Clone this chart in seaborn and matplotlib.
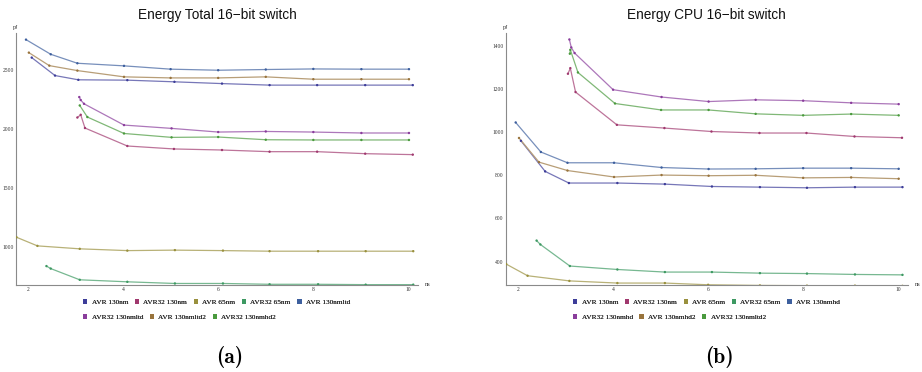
import os
import matplotlib
matplotlib.use("Agg")
import matplotlib.pyplot as plt
import numpy as np
import pandas as pd
import seaborn as sns
from matplotlib.patches import Patch
from matplotlib.ticker import MultipleLocator
from matplotlib.colors import to_rgb
from matplotlib.font_manager import FontProperties

# ---------------- data ----------------
names_a = ["AVR 130nm", "AVR32 130nm", "AVR 65nm", "AVR32 65nm", "AVR 130nmltd",
           "AVR32 130nmltd", "AVR 130nmltd2", "AVR32 130nmhd2"]
names_b = ["AVR 130nm", "AVR32 130nm", "AVR 65nm", "AVR32 65nm", "AVR 130nmhd",
           "AVR32 130nmhd", "AVR 130nmhd2", "AVR32 130nmltd2"]
series_colors = ["#3d3d99", "#a0386e", "#99903d", "#3d9962", "#3d5f9e",
                 "#8a3d9c", "#99743d", "#4a9a3d"]

# Panel (a): Energy Total
tot_avr130_x = [2.08, 2.57, 3.06, 4.09, 5.08, 6.08, 7.08, 8.08, 9.09, 10.09]
tot_avr130_y = [2604, 2452, 2416, 2413, 2399, 2384, 2371, 2371, 2371, 2371]
tot_avr32_130_x = [3.04, 3.11, 3.20, 4.09, 5.07, 6.08, 7.08, 8.08, 9.09, 10.09]
tot_avr32_130_y = [2097, 2120, 2008, 1856, 1831, 1822, 1808, 1808, 1791, 1783]
tot_avr65_x = [1.76, 2.20, 3.09, 4.09, 5.09, 6.10, 7.08, 8.10, 9.10, 10.10]
tot_avr65_y = [1084, 1011, 986, 971, 975, 971, 966, 966, 966, 966]
tot_avr32_65_x = [2.39, 2.48, 3.09, 4.09, 5.09, 6.10, 7.08, 8.10, 9.10, 10.10]
tot_avr32_65_y = [840, 819, 724, 707, 693, 693, 686, 686, 683, 683]
tot_avr130l_x = [1.96, 2.48, 3.04, 4.02, 5.00, 6.00, 7.00, 8.00, 9.01, 10.01]
tot_avr130l_y = [2756, 2632, 2556, 2534, 2506, 2497, 2503, 2508, 2506, 2506]
tot_avr32_130l_x = [3.08, 3.11, 3.18, 4.02, 5.02, 6.00, 7.00, 8.00, 9.01, 10.01]
tot_avr32_130l_y = [2270, 2245, 2213, 2033, 2005, 1974, 1979, 1974, 1966, 1966]
tot_avr130l2_x = [2.02, 2.45, 3.04, 4.02, 5.00, 6.00, 7.00, 8.00, 9.01, 10.01]
tot_avr130l2_y = [2646, 2536, 2494, 2441, 2432, 2432, 2441, 2421, 2421, 2421]
tot_avr32_130h2_x = [3.09, 3.25, 4.02, 5.02, 6.00, 7.00, 8.00, 9.01, 10.01]
tot_avr32_130h2_y = [2199, 2101, 1962, 1929, 1932, 1909, 1907, 1907, 1907]

# Panel (b): Energy CPU
cpu_avr130_x = [2.06, 2.57, 3.07, 4.09, 5.09, 6.08, 7.09, 8.08, 9.09, 10.09]
cpu_avr130_y = [960, 818, 764, 764, 759, 748, 745, 742, 745, 745]
cpu_avr32_130_x = [3.05, 3.10, 3.21, 4.08, 5.08, 6.07, 7.08, 8.07, 9.08, 10.08]
cpu_avr32_130_y = [1271, 1297, 1186, 1034, 1019, 1003, 996, 996, 980, 974]
cpu_avr65_x = [1.75, 2.20, 3.08, 4.09, 5.09, 6.00, 7.09, 8.08, 9.09, 10.09]
cpu_avr65_y = [388, 334, 310, 300, 300, 292, 289, 288, 288, 287]
cpu_avr32_65_x = [2.39, 2.47, 3.09, 4.09, 5.09, 6.08, 7.09, 8.08, 9.09, 10.09]
cpu_avr32_65_y = [497, 479, 379, 363, 351, 351, 346, 344, 340, 338]
cpu_avr130h_x = [1.95, 2.48, 3.04, 4.02, 5.02, 6.01, 7.00, 8.00, 9.01, 10.01]
cpu_avr130h_y = [1045, 908, 858, 858, 836, 829, 830, 833, 833, 830]
cpu_avr32_130h_x = [3.08, 3.12, 3.19, 4.00, 5.02, 6.01, 7.00, 8.00, 9.01, 10.01]
cpu_avr32_130h_y = [1430, 1393, 1367, 1197, 1163, 1142, 1150, 1146, 1136, 1130]
cpu_avr130h2_x = [2.02, 2.44, 3.04, 4.02, 5.02, 6.01, 7.00, 8.00, 9.01, 10.01]
cpu_avr130h2_y = [973, 861, 822, 792, 801, 798, 800, 788, 790, 784]
cpu_avr32_130l2_x = [3.09, 3.10, 3.26, 4.04, 5.01, 6.01, 7.00, 8.00, 9.01, 10.01]
cpu_avr32_130l2_y = [1364, 1382, 1277, 1133, 1103, 1103, 1085, 1078, 1084, 1078]

xs_a = [tot_avr130_x, tot_avr32_130_x, tot_avr65_x, tot_avr32_65_x, tot_avr130l_x,
        tot_avr32_130l_x, tot_avr130l2_x, tot_avr32_130h2_x]
ys_a = [tot_avr130_y, tot_avr32_130_y, tot_avr65_y, tot_avr32_65_y, tot_avr130l_y,
        tot_avr32_130l_y, tot_avr130l2_y, tot_avr32_130h2_y]
xs_b = [cpu_avr130_x, cpu_avr32_130_x, cpu_avr65_x, cpu_avr32_65_x, cpu_avr130h_x,
        cpu_avr32_130h_x, cpu_avr130h2_x, cpu_avr32_130l2_x]
ys_b = [cpu_avr130_y, cpu_avr32_130_y, cpu_avr65_y, cpu_avr32_65_y, cpu_avr130h_y,
        cpu_avr32_130h_y, cpu_avr130h2_y, cpu_avr32_130l2_y]

titles = ["Energy Total 16\u2212bit switch", "Energy CPU 16\u2212bit switch"]
captions = ["(a)", "(b)"]

# ---------------- style ----------------
sns.set_style("white")
plt.rcParams['font.family'] = ['Liberation Serif', 'DejaVu Serif']

cmb_path = os.path.join(matplotlib.get_data_path(), "fonts", "ttf", "cmb10.ttf")
if os.path.exists(cmb_path):
    cap_font = FontProperties(fname=cmb_path, size=15.5)
else:
    cap_font = FontProperties(family="Liberation Serif", weight="bold", size=15.5)


def tint(c, f=0.3):
    r = np.array(to_rgb(c))
    return tuple(r + (1 - r) * f)


def build(names, xs, ys):
    rows = []
    for n, x, y in zip(names, xs, ys):
        for xi, yi in zip(x, y):
            rows.append((n, xi, yi))
    return pd.DataFrame(rows, columns=["series", "ns", "pJ"])


fig = plt.figure(figsize=(9.22, 3.72), dpi=100)
W, H = 922.0, 372.0

panels = [
    dict(names=names_a, xs=xs_a, ys=ys_a, left=16, xlim=(1.75, 10.2), ylim=(680, 2812),
         ymaj=500, ymin=100, leg_x=83, cap_x=230, title_x=217),
    dict(names=names_b, xs=xs_b, ys=ys_b, left=505.7, xlim=(1.74, 10.2), ylim=(291, 1460),
         ymaj=200, ymin=50, leg_x=573, cap_x=719, title_x=706),
]

for i, p in enumerate(panels):
    ax = fig.add_axes([p["left"] / W, 1 - 285 / H, 402 / W, 252 / H])
    df = build(p["names"], p["xs"], p["ys"])
    light = {n: tint(c, 0.3) for n, c in zip(p["names"], series_colors)}
    dark = {n: tint(c, 0.0) for n, c in zip(p["names"], series_colors)}
    sns.lineplot(data=df, x="ns", y="pJ", hue="series", palette=light, sort=False,
                 estimator=None, legend=False, lw=0.9, ax=ax)
    sns.scatterplot(data=df, x="ns", y="pJ", hue="series", palette=dark, s=3,
                    linewidth=0, legend=False, ax=ax, zorder=3)
    ax.set_xlim(*p["xlim"])
    ax.set_ylim(*p["ylim"])
    ax.set_xlabel("")
    ax.set_ylabel("")
    sns.despine(ax=ax)
    for s in ("left", "bottom"):
        ax.spines[s].set_color("#8a8a8a")
        ax.spines[s].set_linewidth(0.8)
    ax.xaxis.set_major_locator(MultipleLocator(2))
    ax.xaxis.set_minor_locator(MultipleLocator(0.5))
    ax.yaxis.set_major_locator(MultipleLocator(p["ymaj"]))
    ax.yaxis.set_minor_locator(MultipleLocator(p["ymin"]))
    ax.tick_params(which="both", direction="in", color="#666666", width=0.5,
                   labelsize=4, labelcolor="#333333", pad=1.5)
    ax.tick_params(which="major", length=3)
    ax.tick_params(which="minor", length=1.6)
    ax.patch.set_alpha(0)
    # axis unit labels
    fig.text(p["left"] / W, 1 - 27 / H, "pJ", fontsize=4.5, color="#333333",
             ha="center", va="center")
    fig.text((p["left"] + 412) / W, 1 - 285 / H, "ns", fontsize=4.5, color="#333333",
             ha="center", va="center")
    # title
    fig.text(p["title_x"] / W, 1 - 15 / H, titles[i], family="Liberation Sans",
             fontsize=9.8, ha="center", va="center", color="#111111")
    # legend rows
    handles = [Patch(facecolor=c, edgecolor="none") for c in series_colors]
    rows = [(0, 5, 302), (5, 8, 317)]
    for a, b, yy in rows:
        leg = fig.legend(handles[a:b], p["names"][a:b], ncol=b - a, loc="center left",
                         bbox_to_anchor=(p["leg_x"] / W, 1 - yy / H), frameon=False,
                         fontsize=5.2, handlelength=0.6, handleheight=0.6,
                         handletextpad=0.6, columnspacing=0.9, borderpad=0,
                         borderaxespad=0)
        fig.add_artist(leg)
    # caption
    fig.text(p["cap_x"] / W, 1 - 357 / H, captions[i], fontproperties=cap_font,
             ha="center", va="center", color="black")

fig.savefig("out.png", dpi=100, facecolor="white")
